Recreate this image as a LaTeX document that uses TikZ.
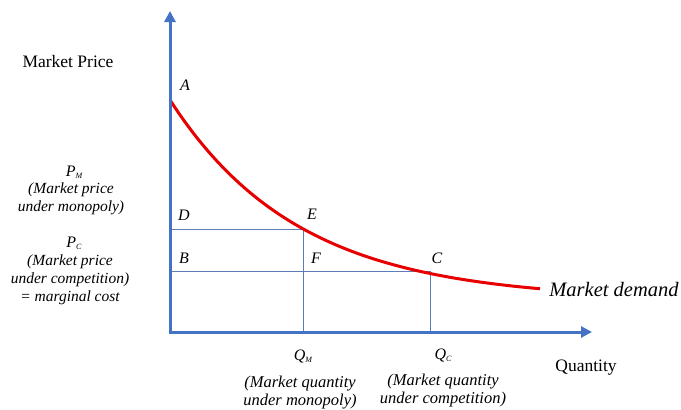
\documentclass[tikz,border=0pt]{standalone}
\usepackage{fontspec}
\setmainfont{Liberation Serif}
\usetikzlibrary{arrows.meta}
\definecolor{axisblue}{RGB}{68,114,196}
\definecolor{guideblue}{RGB}{91,127,181}
\definecolor{demandred}{RGB}{230,0,0}
\newcommand{\lsub}[1]{\raisebox{-2pt}{\fontsize{8}{8}\selectfont #1}}
\tikzset{
  axis/.style={draw=axisblue, line width=3pt, -{Triangle[length=11pt,width=11pt]}},
  guide/.style={draw=guideblue, line width=0.9pt},
  demand/.style={draw=demandred, line width=3pt},
  pt/.style={font=\fontsize{16}{16}\selectfont\itshape, inner sep=0pt},
  sym/.style={font=\fontsize{16}{16}\selectfont\itshape, inner sep=0pt},
  plbl/.style={font=\fontsize{15.5}{18}\selectfont\itshape, align=center, inner sep=0pt},
  qlbl/.style={font=\fontsize{16.5}{18}\selectfont\itshape, align=center, inner sep=0pt},
  plain/.style={font=\fontsize{17.5}{20}\selectfont, inner sep=0pt}
}
\begin{document}
\begin{tikzpicture}[x=1pt,y=-1pt]
\useasboundingbox (0,0) rectangle (681,410);
\coordinate (O) at (170,332);
\coordinate (Ytip) at (170,11);
\coordinate (Xtip) at (592,332);
\coordinate (Dl) at (170,229);
\coordinate (Ept) at (303,229);
\coordinate (Bl) at (170,271);
\coordinate (Cpt) at (430,271);
\coordinate (Fpt) at (303,271);
\coordinate (Eb) at (303,332);
\coordinate (Cb) at (430,332);
% guides
\draw[guide] (Dl) -- (Ept);
\draw[guide] (Bl) -- (Cpt);
\draw[guide] (Ept) -- (Eb);
\draw[guide] (Cpt) -- (Cb);
% demand curve
\draw[demand] plot[domain=170:540,samples=80] (\x,{300-200*exp(-(\x-170)/128.7)});
% axes
\draw[axis] (O) -- (Ytip);
\draw[axis] ([xshift=-1.5pt]O) -- (Xtip);
% point labels
\node[pt] (A) at (185,85) {A};
\node[pt] (D) at (184,215) {D};
\node[pt] (E) at (312,214) {E};
\node[pt] (B) at (184,258) {B};
\node[pt] (F) at (316,258) {F};
\node[pt] (C) at (437,258) {C};
% axis texts
\node[plain] (mp) at (68,62) {Market Price};
\node[plain] (qty) at (586,368) {Quantity};
\node[font=\fontsize{20.5}{22}\selectfont\itshape, inner sep=0pt] (md) at (614,289) {Market demand};
% price labels
\node[sym] (pm) at (74,172) {P\lsub{M}};
\node[plbl] (pmt) at (71,199) {(Market price\\under monopoly)};
\node[sym] (pc) at (74,243) {P\lsub{C}};
\node[plbl] (pct) at (70,280) {(Market price\\under competition)\\= marginal cost};
% quantity labels
\node[sym] (qm) at (303,356) {Q\lsub{M}};
\node[qlbl] (qmt) at (300,393) {(Market quantity\\under monopoly)};
\node[sym] (qc) at (443,355) {Q\lsub{C}};
\node[qlbl] (qct) at (443,391) {(Market quantity\\under competition)};
\end{tikzpicture}
\end{document}
